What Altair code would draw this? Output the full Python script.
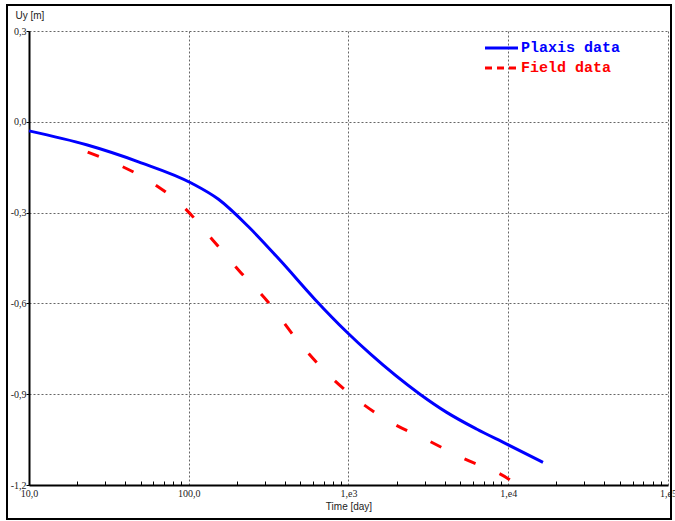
import altair as alt
import pandas as pd

# ---- data ----
plaxis_time = [10, 22.9, 48.9, 104.4, 153.6, 235.9, 378.1, 614.9, 985.8, 1369.6, 2800.6, 4120,
               6329, 9718, 16500]
plaxis_uy = [-0.030, -0.076, -0.133, -0.203, -0.256, -0.346, -0.461, -0.586, -0.697, -0.767,
             -0.900, -0.960, -1.015, -1.064, -1.125]

field_time = [23.3, 36.7, 58.1, 93.1, 143.0, 213.4, 309.6, 482.3, 730, 1257, 1876, 3095, 5179,
              10290, 11300]
field_uy = [-0.100, -0.143, -0.199, -0.282, -0.394, -0.500, -0.592, -0.724, -0.830, -0.936,
            -0.995, -1.051, -1.111, -1.184, -1.200]

x_tick_values = [10, 100, 1000, 10000, 100000]
x_tick_labels = ["10,0", "100,0", "1,e3", "1,e4", "1,e5"]
x_minor_values = [20, 30, 40, 50, 60, 70, 80, 90,
                  200, 300, 400, 500, 600, 700, 800, 900,
                  2000, 3000, 4000, 5000, 6000, 7000, 8000, 9000,
                  20000, 30000, 40000, 50000, 60000, 70000, 80000, 90000]
y_tick_values = [0.3, 0.0, -0.3, -0.6, -0.9, -1.2]
y_tick_labels = ["0,3", "0,0", "-0,3", "-0,6", "-0,9", "-1,2"]

legend_labels = ["Plaxis data", "Field data"]
legend_colors = ["#0000ff", "#ff0000"]

x_title = "Time [day]"
y_title = "Uy [m]"


def label_expr(values, labels):
    vals = ",".join(repr(float(v)) for v in values)
    labs = ",".join("'%s'" % l for l in labels)
    return f"[{labs}][indexof([{vals}], datum.value)]"


W, H = 639, 454

plaxis_df = pd.DataFrame({"time": plaxis_time, "uy": plaxis_uy})
field_df = pd.DataFrame({"time": field_time, "uy": field_uy})

xs = alt.Scale(type="log", domain=[10, 100000], nice=False)
ys = alt.Scale(domain=[-1.2, 0.3], nice=False, zero=False)

x_axis = alt.Axis(
    values=x_tick_values, labelExpr=label_expr(x_tick_values, x_tick_labels),
    grid=True, gridDash=[2, 2], gridColor="#666666", gridWidth=1,
    tickSize=0, domainColor="black", domainWidth=2,
    labelFont="Liberation Serif", labelFontSize=10, labelColor="#222222",
    labelPadding=3, labelFlush=False, labelOverlap=False,
    title=x_title, titleFont="Liberation Sans", titleFontSize=10,
    titleFontWeight="normal", titleColor="#222222", titleY=21, titleBaseline="middle",
)
y_axis = alt.Axis(
    values=y_tick_values, labelExpr=label_expr(y_tick_values, y_tick_labels),
    grid=True, gridDash=[2, 2], gridColor="#666666", gridWidth=1,
    tickSize=3, tickColor="black", domainColor="black", domainWidth=2,
    labelFont="Liberation Serif", labelFontSize=10, labelColor="#222222",
    labelPadding=0, labelFlush=False, labelOverlap=False,
    title=y_title, titleAngle=0, titleAlign="left", titleX=-14, titleY=-13,
    titleBaseline="alphabetic", titleFont="Liberation Sans", titleFontSize=10,
    titleFontWeight="normal", titleColor="#222222",
)
minor_axis = alt.Axis(
    orient="top", offset=-H, values=x_minor_values, labels=False, grid=False,
    domain=False, tickSize=4, tickColor="black", tickWidth=1, title=None,
)

plaxis = alt.Chart(plaxis_df).mark_line(
    color=legend_colors[0], strokeWidth=3, interpolate="monotone"
).encode(
    x=alt.X("time:Q", scale=xs, axis=x_axis),
    y=alt.Y("uy:Q", scale=ys, axis=y_axis),
)

field = alt.Chart(field_df).mark_line(
    color=legend_colors[1], strokeWidth=3, strokeDash=[12, 26], interpolate="monotone"
).encode(
    x=alt.X("time:Q", scale=xs, axis=minor_axis),
    y=alt.Y("uy:Q", scale=ys, axis=y_axis),
)

one = pd.DataFrame({"a": [0]})

frame = alt.Chart(one).mark_rect(filled=False, stroke="black", strokeWidth=2).encode(
    x=alt.value(-22), x2=alt.value(642), y=alt.value(-26), y2=alt.value(488)
)

leg_layers = []
for i, (lab, col) in enumerate(zip(legend_labels, legend_colors)):
    ydash = 17 + 20 * i
    rule_kwargs = dict(color=col, strokeWidth=3)
    if i == 1:
        rule_kwargs["strokeDash"] = [7, 5]
    leg_layers.append(
        alt.Chart(one).mark_rule(**rule_kwargs).encode(
            x=alt.value(456), x2=alt.value(489), y=alt.value(ydash)
        )
    )
    leg_layers.append(
        alt.Chart(pd.DataFrame({"label": [lab]})).mark_text(
            align="left", baseline="middle", font="Liberation Mono",
            fontSize=15, fontWeight="bold", color=col,
        ).encode(x=alt.value(492), y=alt.value(ydash - 1), text="label:N")
    )

chart = alt.layer(plaxis, field, frame, *leg_layers).resolve_axis(
    x="independent"
).properties(
    width=W, height=H,
    padding={"left": 29, "top": 31, "right": 7, "bottom": 36},
    autosize="none",
    background="white",
).configure_view(strokeWidth=0)

chart.save("out.html", embed_options={"renderer": "svg", "actions": False})
